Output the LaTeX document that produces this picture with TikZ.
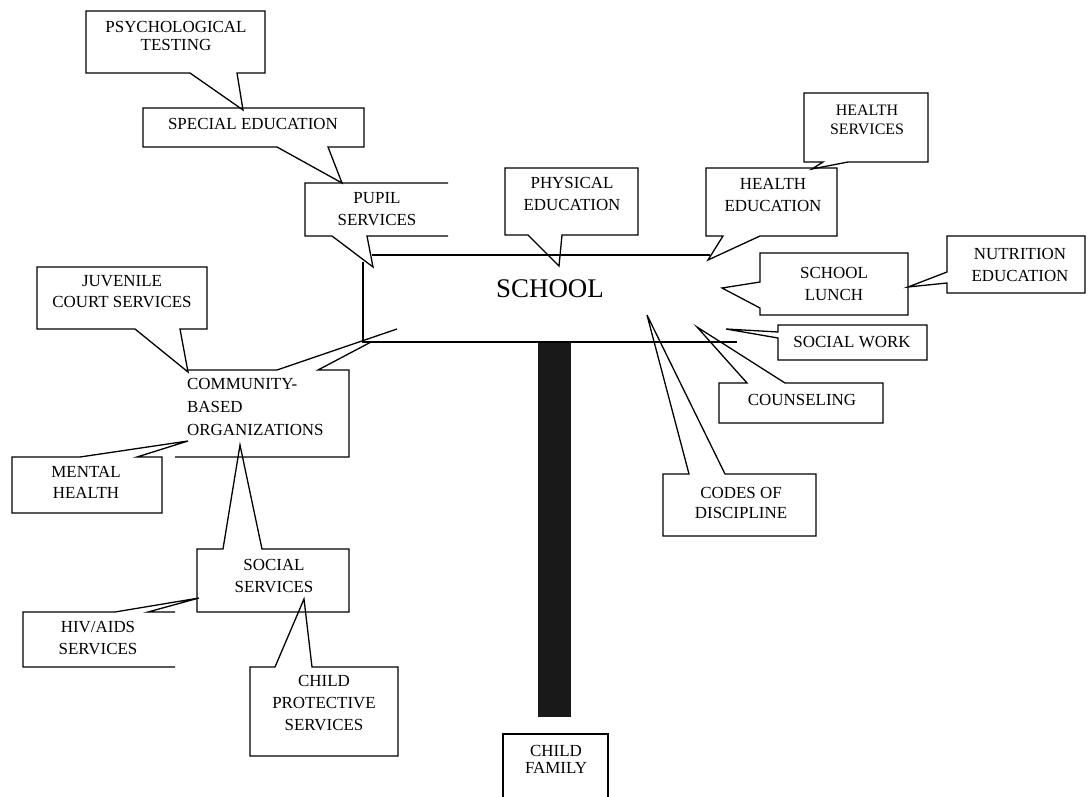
\documentclass[tikz,border=0pt]{standalone}
\usepackage{fontspec}
\setmainfont{Liberation Serif}
\begin{document}
\begin{tikzpicture}[x=1bp,y=-1bp,
  edge/.style={line width=1.3bp, line join=miter, line cap=butt},
  lbl/.style={font=\fontsize{17}{22}\selectfont, align=center, inner sep=0pt},
  big/.style={font=\fontsize{27}{32}\selectfont, inner sep=0pt},
  bar/.style={fill=black!90}]
\useasboundingbox (0,0) rectangle (1088,797);

% ---- labels ----
\node[lbl,font=\fontsize{17}{19}\selectfont] (psych) at (176,36) {PSYCHOLOGICAL\\TESTING};
\node[lbl] (sped)   at (253,124) {SPECIAL EDUCATION};
\node[lbl] (pupil)  at (377,209) {PUPIL\\SERVICES};
\node[lbl,font=\fontsize{17}{23}\selectfont] (phys) at (572,194) {PHYSICAL\\EDUCATION};
\node[lbl] (hedu)   at (773,195) {HEALTH\\EDUCATION};
\node[lbl,font=\fontsize{16}{19}\selectfont] (hserv) at (867,120) {HEALTH\\SERVICES};
\node[big] (school) at (550,289) {SCHOOL};
\node[lbl,font=\fontsize{17}{23}\selectfont] (lunch) at (834,284) {SCHOOL\\LUNCH};
\node[lbl] (nutr)   at (1020,265) {NUTRITION\\EDUCATION};
\node[lbl] (swork)  at (852,342) {SOCIAL WORK};
\node[lbl] (couns)  at (802,400) {COUNSELING};
\node[lbl,font=\fontsize{17}{21}\selectfont] (codes) at (741,503) {CODES OF\\DISCIPLINE};
\node[lbl,font=\fontsize{17}{21}\selectfont] (juv) at (122,292) {JUVENILE\\COURT SERVICES};
\node[lbl,font=\fontsize{17}{23}\selectfont,align=left,anchor=west] (cbo) at (187,407) {COMMUNITY-\\BASED\\ORGANIZATIONS};
\node[lbl,font=\fontsize{17}{21}\selectfont] (mental) at (86,482) {MENTAL\\HEALTH};
\node[lbl] (social) at (274,576) {SOCIAL\\SERVICES};
\node[lbl] (hiv)    at (98,638) {HIV/AIDS\\SERVICES};
\node[lbl] (cps)    at (324,703) {CHILD\\PROTECTIVE\\SERVICES};
\node[lbl,font=\fontsize{17}{17}\selectfont] (family) at (556,759) {CHILD\\FAMILY};

% ---- pointer tips ----
\coordinate (psych-tip)  at (243,110);
\coordinate (sped-tip)   at (342,183);
\coordinate (pupil-tip)  at (373,267);
\coordinate (phys-tip)   at (559,266);
\coordinate (hedu-tip)   at (708,260);
\coordinate (hserv-tip)  at (812,169);
\coordinate (lunch-tip)  at (722,288);
\coordinate (nutr-tip)   at (908,287);
\coordinate (swork-tip)  at (726,329);
\coordinate (couns-tip)  at (697,327);
\coordinate (codes-tip)  at (647,315);
\coordinate (juv-tip)    at (188,372);
\coordinate (cbo-tip)    at (397,329);
\coordinate (cbo-tip2)   at (371,342);
\coordinate (mental-tip) at (188,441);
\coordinate (social-tip) at (240,445);
\coordinate (hiv-tip)    at (199,598);
\coordinate (cps-tip)    at (304,599);

% ---- school frame and stem ----
\fill[bar] (538,342) rectangle (571,717);
\draw[edge] (372,255) -- (710,255);
\draw[edge] (363,262) -- (363,342) -- (737,342);

% ---- callout boxes ----
\draw[edge] (190,73) -- (86,73) -- (86,11) -- (265,11) -- (265,73) -- (237,73) -- (psych-tip) -- cycle;
\draw[edge] (277,147) -- (143,147) -- (143,108) -- (364,108) -- (364,147) -- (328,147) -- (sped-tip) -- cycle;
\draw[edge] (448,183) -- (305,183) -- (305,236) -- (332,236) -- (pupil-tip) -- (367,236) -- (448,236);
\draw[edge] (528,235) -- (505,235) -- (505,168) -- (638,168) -- (638,235) -- (562,235) -- (phys-tip) -- cycle;
\draw[edge] (723,236) -- (706,236) -- (706,168) -- (837,168) -- (837,236) -- (760,236) -- (hedu-tip) -- cycle;
\draw[edge] (823,162) -- (804,162) -- (804,93) -- (928,93) -- (928,162) -- (848,162) -- (hserv-tip) -- cycle;
\draw[edge] (760,282) -- (760,253) -- (908,253) -- (908,315) -- (760,315) -- (760,308) -- (lunch-tip) -- cycle;
\draw[edge] (947,272) -- (947,236) -- (1085,236) -- (1085,293) -- (947,293) -- (947,283) -- (nutr-tip) -- cycle;
\draw[edge] (778,332) -- (778,325) -- (927,325) -- (927,360) -- (778,360) -- (778,338) -- (swork-tip) -- cycle;
\draw[edge] (747,383) -- (719,383) -- (719,423) -- (883,423) -- (883,383) -- (785,383) -- (couns-tip) -- cycle;
\draw[edge] (689,474) -- (663,474) -- (663,536) -- (816,536) -- (816,474) -- (725,474) -- (codes-tip) -- cycle;
\draw[edge] (135,329) -- (37,329) -- (37,267) -- (207,267) -- (207,329) -- (180,329) -- (juv-tip) -- cycle;
\draw[edge] (188,370) -- (277,370) -- (cbo-tip);
\draw[edge] (cbo-tip2) -- (318,370) -- (349,370) -- (349,457) -- (175,457);
\draw[edge] (80,457) -- (12,457) -- (12,513) -- (162,513) -- (162,457) -- (137,457) -- (mental-tip) -- cycle;
\draw[edge] (223,549) -- (197,549) -- (197,612) -- (349,612) -- (349,549) -- (262,549) -- (social-tip) -- cycle;
\draw[edge] (175,667) -- (23,667) -- (23,612) -- (115,612) -- (hiv-tip) -- (148,612) -- (175,612);
\draw[edge] (275,667) -- (250,667) -- (250,756) -- (398,756) -- (398,667) -- (312,667) -- (cps-tip) -- cycle;
\draw[edge] (503,800) -- (503,734) -- (608,734) -- (608,800);
\end{tikzpicture}
\end{document}
